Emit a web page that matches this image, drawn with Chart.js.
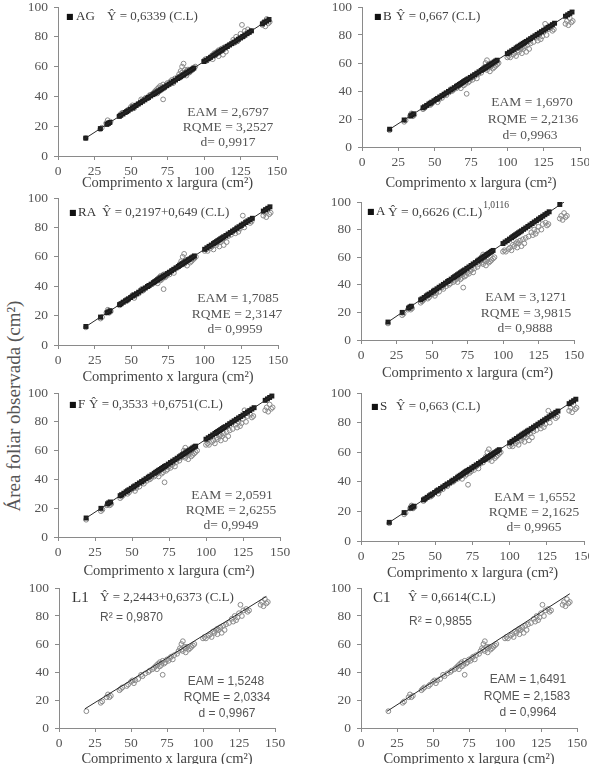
<!DOCTYPE html>
<html><head><meta charset="utf-8">
<script src="https://cdn.jsdelivr.net/npm/chart.js@4.4.1/dist/chart.umd.min.js"></script>
<style>
html,body{margin:0;padding:0;background:#fff;width:589px;height:764px;overflow:hidden;position:relative}
canvas.p{position:absolute}
#ylab{position:absolute;left:14px;top:406px;transform:translate(-50%,-50%) rotate(-90deg);font:19px "Liberation Serif";color:#555;white-space:nowrap}
</style></head><body>
<div id="ylab">Área foliar observada (cm²)</div>
<script>
// ---- tick labels ----
const xTickLabels = [0, 25, 50, 75, 100, 125, 150];
const yTickLabels = [0, 20, 40, 60, 80, 100];
const xTitle = 'Comprimento x largura (cm²)';

// ---- observed leaf area (open circles), shared by all panels ----
const obsCL = [19,29,30,33,34,35,36,42,43,44,47,48,50,51,52,53,55,57,58,60,62,63,65,66,67,68,68,69,70,70,71,72,72,73,74,75,76,77,78,79,80,82,83,84,85,85,86,86,87,88,88,89,90,91,92,93,94,100,101,102,104,105,106,107,108,109,110,110,111,112,113,114,115,116,118,120,121,122,123,124,125,126,127,128,130,131,132,140,141,142,143,144,145];
const obsArea = [12,18,19,22,24,22,23,27,28,29,30,31,33,34,32,34,35,38,37,39,40,41,42,43,44,45,42,46,44,47,45,38,48,46,47,49,48,50,51,49,52,53,55,57,56,60,62,55,58,54,57,58,56,57,58,59,60,64,65,64,66,67,65,69,68,70,71,67,70,72,68,73,70,74,75,78,76,80,77,79,82,88,80,84,85,83,84,88,90,87,92,89,90];

// ---- estimated leaf area (filled squares) ----
const estCL = [19,29,33.5,34.5,35.5,
 42,43,44.5,46,47,48,49.5,51,52,53.5,55,56.5,58,59.5,61,62,63.5,65,66,67,68,69,70,71,72,73,74.5,76,77.5,79,80.5,82,83,84,85,86,87,88,89,90,91,92,93,
 100,101.5,103,104.5,106,107,108,109,110,111,112,113,114.5,116,117.5,119,120.5,122,123.5,125,126.5,128,129.5,131,132.5,
 140,141.5,143,144.5];
const estAG = [12.0,18.4,21.2,21.9,22.5,
 26.6,27.3,28.2,29.2,29.8,30.4,31.4,32.3,33.0,33.9,34.9,35.8,36.8,37.7,38.7,39.3,40.3,41.2,41.8,42.5,43.1,43.7,44.4,45.0,45.6,46.3,47.2,48.2,49.1,50.1,51.0,52.0,52.6,53.2,53.9,54.5,55.1,55.8,56.4,57.1,57.7,58.3,59.0,
 63.4,64.3,65.3,66.2,67.2,67.8,68.5,69.1,69.7,70.4,71.0,71.6,72.6,73.5,74.5,75.4,76.4,77.3,78.3,79.2,80.2,81.1,82.1,83.0,84.0,
 88.7,89.7,90.6,91.6];
const estB = [12.7,19.3,22.3,23.0,23.7,
 28.0,28.7,29.7,30.7,31.3,32.0,33.0,34.0,34.7,35.7,36.7,37.7,38.7,39.7,40.7,41.4,42.4,43.4,44.0,44.7,45.4,46.0,46.7,47.4,48.0,48.7,49.7,50.7,51.7,52.7,53.7,54.7,55.4,56.0,56.7,57.4,58.0,58.7,59.4,60.0,60.7,61.4,62.0,
 66.7,67.7,68.7,69.7,70.7,71.4,72.0,72.7,73.4,74.0,74.7,75.4,76.4,77.4,78.4,79.4,80.4,81.4,82.4,83.4,84.4,85.4,86.4,87.4,88.4,
 93.4,94.4,95.4,96.4];
const estRA = [12.6,19.0,22.0,22.6,23.3,
 27.5,28.1,29.1,30.1,30.7,31.4,32.3,33.3,34.0,34.9,35.9,36.9,37.9,38.8,39.8,40.5,41.4,42.4,43.1,43.7,44.4,45.0,45.7,46.3,46.9,47.6,48.6,49.5,50.5,51.5,52.5,53.4,54.1,54.7,55.4,56.0,56.7,57.3,58.0,58.6,59.3,59.9,60.6,
 65.1,66.1,67.1,68.0,69.0,69.7,70.3,71.0,71.6,72.3,72.9,73.6,74.5,75.5,76.5,77.5,78.4,79.4,80.4,81.3,82.3,83.3,84.3,85.2,86.2,
 91.1,92.1,93.0,94.0];
const estA = [13.0,20.0,23.1,23.8,24.5,
 29.1,29.8,30.8,31.9,32.6,33.3,34.3,35.4,36.1,37.1,38.2,39.2,40.3,41.3,42.4,43.1,44.1,45.2,45.9,46.6,47.3,48.0,48.7,49.4,50.1,50.8,51.9,52.9,54.0,55.1,56.1,57.2,57.9,58.6,59.3,60.0,60.7,61.4,62.1,62.8,63.5,64.2,64.9,
 69.9,71.0,72.0,73.1,74.1,74.9,75.6,76.3,77.0,77.7,78.4,79.1,80.2,81.2,82.3,83.3,84.4,85.5,86.5,87.6,88.7,89.7,90.8,91.8,92.9,
 98.2,null,null,null];
const estF = [13.2,19.9,23.0,23.6,24.3,
 28.7,29.4,30.4,31.4,32.1,32.8,33.8,34.8,35.5,36.5,37.5,38.5,39.5,40.5,41.5,42.2,43.2,44.2,44.9,45.6,46.3,46.9,47.6,48.3,49.0,49.6,50.6,51.7,52.7,53.7,54.7,55.7,56.4,57.1,57.7,58.4,59.1,59.8,60.4,61.1,61.8,62.5,63.1,
 67.9,68.9,69.9,70.9,71.9,72.6,73.3,73.9,74.6,75.3,76.0,76.6,77.6,78.7,79.7,80.7,81.7,82.7,83.7,84.7,85.8,86.8,87.8,88.8,89.8,
 94.9,95.9,96.9,97.9];
const estS = [12.6,19.2,22.2,22.9,23.5,
 27.8,28.5,29.5,30.5,31.2,31.8,32.8,33.8,34.5,35.5,36.5,37.5,38.5,39.4,40.4,41.1,42.1,43.1,43.8,44.4,45.1,45.7,46.4,47.1,47.7,48.4,49.4,50.4,51.4,52.4,53.4,54.4,55.0,55.7,56.4,57.0,57.7,58.3,59.0,59.7,60.3,61.0,61.7,
 66.3,67.3,68.3,69.3,70.3,70.9,71.6,72.3,72.9,73.6,74.3,74.9,75.9,76.9,77.9,78.9,79.9,80.9,81.9,82.9,83.9,84.9,85.9,86.9,87.8,
 92.8,93.8,94.8,95.8];

// ---- fitted lines (end points) ----
const lineAG_x = [18,146], lineAG_y = [11.4,92.6];
const lineB_x  = [18,146], lineB_y  = [12.0,97.4];
const lineRA_x = [18,146], lineRA_y = [11.9,95.0];
const lineA_x  = [18,143], lineA_y  = [12.3,100.0];
const lineF_x  = [18,146], lineF_y  = [12.5,98.9];
const lineS_x  = [18,146], lineS_y  = [11.9,96.8];
const lineL1_x = [18,144], lineL1_y = [13.7,94.0];
const lineC1_x = [18,145], lineC1_y = [11.9,95.9];

const SERIF = '"Liberation Serif", "Times New Roman", serif';
const SANS = '"Liberation Sans", Arial, sans-serif';
const fEq = '13px ' + SERIF, fSt = '13.5px ' + SERIF, fSq = '8px "DejaVu Sans"', fSans = '12px ' + SANS;

// text items: [text, pageX, pageY, font, colour, align]; align 'sup' = placed right after the previous item
const panels = [
 {name:'AG', g:[58,7,277,156], tOff:27, est:estAG, lx:lineAG_x, ly:lineAG_y, texts:[
   ['■',66,17,fSq,'#111','left'],['AG',76,17,fEq,'#333','left'],['Ŷ = 0,6339 (C.L)',107,17,fEq,'#444','left'],
   ['EAM = 2,6797',228,112,fSt,'#555','center'],['RQME = 3,2527',228,127,fSt,'#555','center'],['d= 0,9917',228,142,fSt,'#555','center']]},
 {name:'B', g:[362,7,580,147], tOff:36, est:estB, lx:lineB_x, ly:lineB_y, texts:[
   ['■',374,17,fSq,'#111','left'],['B',383,17,fEq,'#333','left'],['Ŷ = 0,667 (C.L)',396,17,fEq,'#444','left'],
   ['EAM = 1,6970',532,102,fSt,'#555','center'],['RQME = 2,2136',533,119,fSt,'#555','center'],['d= 0,9963',530,135,fSt,'#555','center']]},
 {name:'RA', g:[58,198,278,345], tOff:32, est:estRA, lx:lineRA_x, ly:lineRA_y, texts:[
   ['■',69,213,fSq,'#111','left'],['RA',78,213,fEq,'#333','left'],['Ŷ = 0,2197+0,649 (C.L)',102,213,fEq,'#444','left'],
   ['EAM = 1,7085',238,298,fSt,'#555','center'],['RQME = 2,3147',237,314,fSt,'#555','center'],['d= 0,9959',235,329,fSt,'#555','center']]},
 {name:'A', g:[361,202,574,340], tOff:33, est:estA, lx:lineA_x, ly:lineA_y, texts:[
   ['■',367,212,fSq,'#111','left'],['A',376,212,fEq,'#333','left'],['Ŷ = 0,6626 (C.L)',388,212,'13.5px '+SERIF,'#444','left'],['1,0116',0,205,'9.5px '+SERIF,'#444','sup'],
   ['EAM = 3,1271',526,297,fSt,'#555','center'],['RQME = 3,9815',526,313,fSt,'#555','center'],['d= 0,9888',525,328,fSt,'#555','center']]},
 {name:'F', g:[58,393,280,537], tOff:34, est:estF, lx:lineF_x, ly:lineF_y, texts:[
   ['■',69,405,fSq,'#111','left'],['F',78,405,fEq,'#333','left'],['Ŷ = 0,3533 +0,6751(C.L)',89,405,fEq,'#444','left'],
   ['EAM = 2,0591',232,495,fSt,'#555','center'],['RQME = 2,6255',231,510,fSt,'#555','center'],['d= 0,9949',231,525,fSt,'#555','center']]},
 {name:'S', g:[361,393,584,541], tOff:32, est:estS, lx:lineS_x, ly:lineS_y, texts:[
   ['■',371,407,fSq,'#111','left'],['S',380,407,fEq,'#333','left'],['Ŷ = 0,663 (C.L)',396,407,fEq,'#444','left'],
   ['EAM = 1,6552',535,497,fSt,'#555','center'],['RQME = 2,1625',534,512,fSt,'#555','center'],['d= 0,9965',534,527,fSt,'#555','center']]},
 {name:'L1', g:[59,588,275,728], tOff:31, est:null, lx:lineL1_x, ly:lineL1_y, texts:[
   ['L1',72,598,'15px '+SERIF,'#333','left'],['Ŷ = 2,2443+0,6373 (C.L)',100,598,fEq,'#444','left'],['R² = 0,9870',100,618,fSans,'#555','left'],
   ['EAM = 1,5248',226,682,fSans,'#555','center'],['RQME = 2,0334',227,698,fSans,'#555','center'],['d = 0,9967',227,714,fSans,'#555','center']]},
 {name:'C1', g:[361,588,577,728], tOff:31, est:null, lx:lineC1_x, ly:lineC1_y, texts:[
   ['C1',373,598,'15px '+SERIF,'#333','left'],['Ŷ = 0,6614(C.L)',408,598,fEq,'#444','left'],['R² = 0,9855',409,622,fSans,'#555','left'],
   ['EAM = 1,6491',528,680,fSans,'#555','center'],['RQME = 2,1583',527,697,fSans,'#555','center'],['d = 0,9964',528,713,fSans,'#555','center']]}
];

const YW = 55, PT = 10, PR = 16;
panels.forEach(p => {
  const [L,T,R,B] = p.g;
  const xh = p.tOff + 13;
  const cl = L - YW, ct = T - PT;
  const cv = document.createElement('canvas');
  cv.className = 'p';
  cv.width = (R - L) + YW + PR; cv.height = (B - T) + PT + xh;
  cv.style.left = cl + 'px'; cv.style.top = ct + 'px';
  cv.style.width = cv.width + 'px'; cv.style.height = cv.height + 'px';
  document.body.appendChild(cv);

  const ds = [];
  ds.push({type:'line', data:p.lx.map((x,i)=>({x, y:p.ly[i]})), borderColor:'#2a2a2a', borderWidth:1, pointRadius:0, showLine:true, fill:false});
  if (p.est) ds.push({type:'scatter', data:estCL.map((x,i)=>({x, y:p.est[i]})), pointStyle:'rect', pointRadius:3.5, backgroundColor:'#1c1c1c', borderColor:'#1c1c1c', borderWidth:0});
  ds.push({type:'scatter', data:obsCL.map((x,i)=>({x, y:obsArea[i]})), pointStyle:'circle', pointRadius:2.4, backgroundColor:'rgba(0,0,0,0)', borderColor:'#8a8a8a', borderWidth:1});

  const texts = p.texts;
  const notes = {id:'notes', afterDatasetsDraw(chart){
    const ctx = chart.ctx; ctx.save(); ctx.textBaseline = 'middle';
    let lastEnd = 0;
    texts.forEach(([t,x,y,f,c,a]) => {
      ctx.font = f; ctx.fillStyle = c;
      let px = x - cl;
      if (a === 'sup') { ctx.textAlign = 'left'; px = lastEnd + 1; }
      else ctx.textAlign = a;
      ctx.fillText(t, px, y - ct);
      if (a === 'left') lastEnd = px + ctx.measureText(t).width;
    });
    ctx.restore();
  }};

  new Chart(cv, {
    type:'scatter',
    data:{datasets:ds},
    plugins:[notes],
    options:{
      responsive:false, animation:false, events:[],
      layout:{padding:{top:PT, right:PR, left:0, bottom:0}},
      plugins:{legend:{display:false}, tooltip:{enabled:false}},
      scales:{
        x:{type:'linear', min:xTickLabels[0], max:xTickLabels[xTickLabels.length-1],
           ticks:{stepSize:xTickLabels[1]-xTickLabels[0], padding:3, color:'#555', font:{family:SERIF, size:13.5}, maxRotation:0, autoSkip:false},
           grid:{display:true, drawOnChartArea:false, drawTicks:true, tickLength:4, color:'#8a8a8a'},
           border:{display:true, color:'#8a8a8a', width:1},
           title:{display:true, text:xTitle, color:'#444', font:{family:SERIF, size:14.5}, padding:{top:0, bottom:4}},
           afterFit(s){ s.height = xh; s.paddingLeft = 0; s.paddingRight = 0; }},
        y:{type:'linear', min:yTickLabels[0], max:yTickLabels[yTickLabels.length-1],
           ticks:{stepSize:yTickLabels[1]-yTickLabels[0], padding:6, color:'#555', font:{family:SERIF, size:13.5}},
           grid:{display:true, drawOnChartArea:false, drawTicks:true, tickLength:4, color:'#8a8a8a'},
           border:{display:true, color:'#8a8a8a', width:1},
           afterFit(s){ s.width = YW; s.paddingTop = 0; s.paddingBottom = 0; }}
      }
    }
  });
});
</script>
</body></html>
